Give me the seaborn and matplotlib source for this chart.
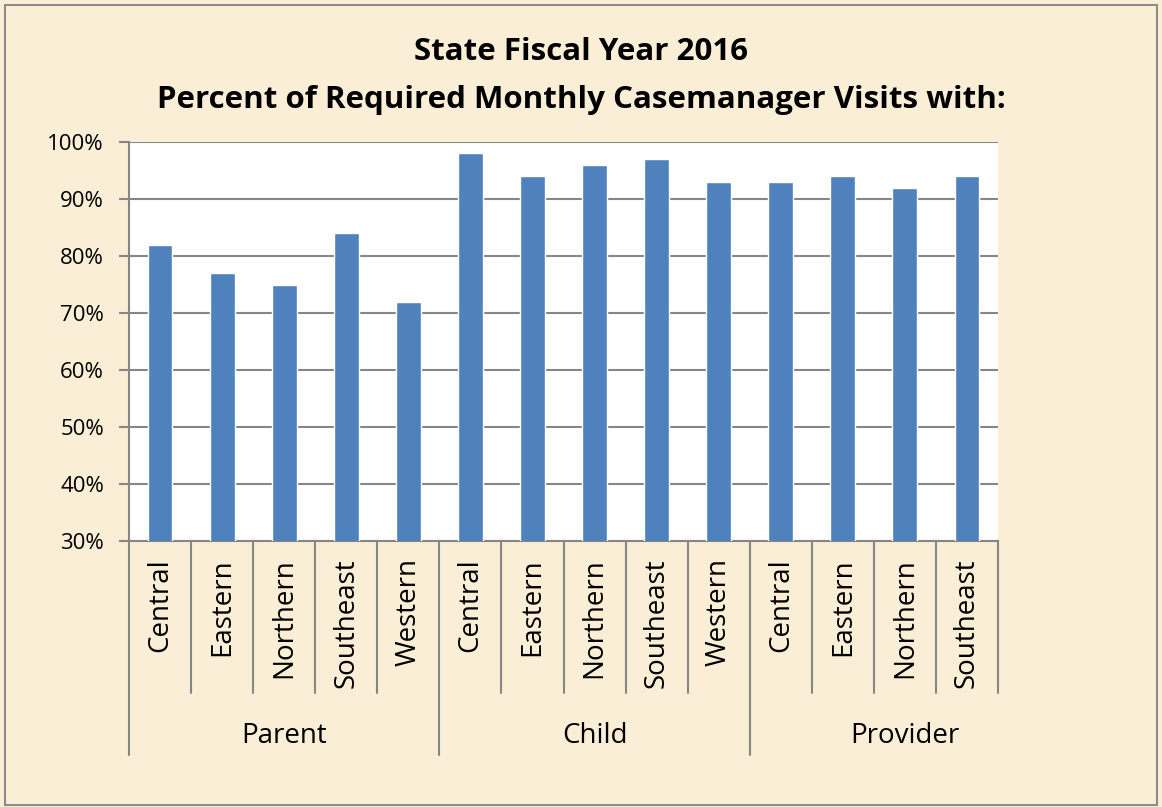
import pandas as pd
import matplotlib.pyplot as plt
import seaborn as sns
from matplotlib.patches import Rectangle

# data
groups = ["Parent", "Child", "Provider"]
regions = [
    ["Central", "Eastern", "Northern", "Southeast", "Western"],
    ["Central", "Eastern", "Northern", "Southeast", "Western"],
    ["Central", "Eastern", "Northern", "Southeast"],
]
parent_pct = [82, 77, 75, 84, 72]
child_pct = [98, 94, 96, 97, 93]
provider_pct = [93, 94, 92, 94]
y_ticks = [30, 40, 50, 60, 70, 80, 90, 100]

values = [parent_pct, child_pct, provider_pct]
rows = []
for g, regs, vals in zip(groups, regions, values):
    for r, v in zip(regs, vals):
        rows.append({"key": g + "|" + r, "group": g, "region": r, "pct": v})
df = pd.DataFrame(rows)

sns.set_style("white")
plt.rcParams["font.family"] = ["Open Sans", "DejaVu Sans"]
plt.rcParams["text.color"] = "black"
plt.rcParams["xtick.color"] = "black"
plt.rcParams["ytick.color"] = "black"

bg = "#FAEFD6"
grid_c = "#868686"
fig = plt.figure(figsize=(11.62, 8.07), dpi=100, facecolor=bg)
ax = fig.add_axes([129 / 1162, 1 - 541 / 807, (998 - 129) / 1162, (541 - 142) / 807])
ax.set_facecolor("white")

sns.barplot(data=df, x="key", y="pct", order=list(df["key"]), color="#4F81BD",
            width=0.4, saturation=1, ax=ax, zorder=3)

ax.set_ylim(30, 100)
ax.set_xlim(-0.5, len(df) - 0.5)
ax.set_yticks(y_ticks)
ax.set_yticklabels([f"{t}%" for t in y_ticks], fontsize=16)
ax.yaxis.grid(True, color=grid_c, linewidth=1.5, zorder=0)
ax.tick_params(axis="y", left=True, length=7, width=1.5, color=grid_c, pad=11,
               labelcolor="black")
ax.set_xticks(range(len(df)))
ax.set_xticklabels(df["region"], rotation=90, fontsize=20, va="top")
ax.tick_params(axis="x", bottom=False, pad=9, labelcolor="black")
ax.set_xlabel("")
ax.set_ylabel("")
for s in ["top", "right"]:
    ax.spines[s].set_visible(False)
for s in ["left", "bottom"]:
    ax.spines[s].set_color(grid_c)
    ax.spines[s].set_linewidth(1.5)

# category separators and group labels
trans = ax.get_xaxis_transform()
start = 0
for g, regs in zip(groups, regions):
    for i in range(1, len(regs)):
        ax.plot([start + i - 0.5] * 2, [0, -0.381], transform=trans, color=grid_c,
                lw=1.5, clip_on=False)
    ax.plot([start - 0.5] * 2, [0, -0.536], transform=trans, color=grid_c,
            lw=1.5, clip_on=False)
    ax.text(start + 2, -0.489, g, transform=trans, ha="center", va="center", fontsize=20)
    start += len(regs)
ax.plot([start - 0.5] * 2, [0, -0.381], transform=trans, color=grid_c,
        lw=1.5, clip_on=False)

fig.text(0.5, 1 - 52 / 807, "State Fiscal Year 2016", ha="center", va="center",
         fontsize=22.5, fontweight="bold")
fig.text(0.5, 1 - 100 / 807, "Percent of Required Monthly Casemanager Visits with:",
         ha="center", va="center", fontsize=22.5, fontweight="bold")

# outer border of the chart area
fig.patches.append(Rectangle((5 / 1162, 2 / 807), 1 - 10 / 1162, 1 - 7 / 807,
                             transform=fig.transFigure, fill=False,
                             edgecolor="#8C8C8C", linewidth=1.5))

fig.savefig("out.png", dpi=100, facecolor=bg)
